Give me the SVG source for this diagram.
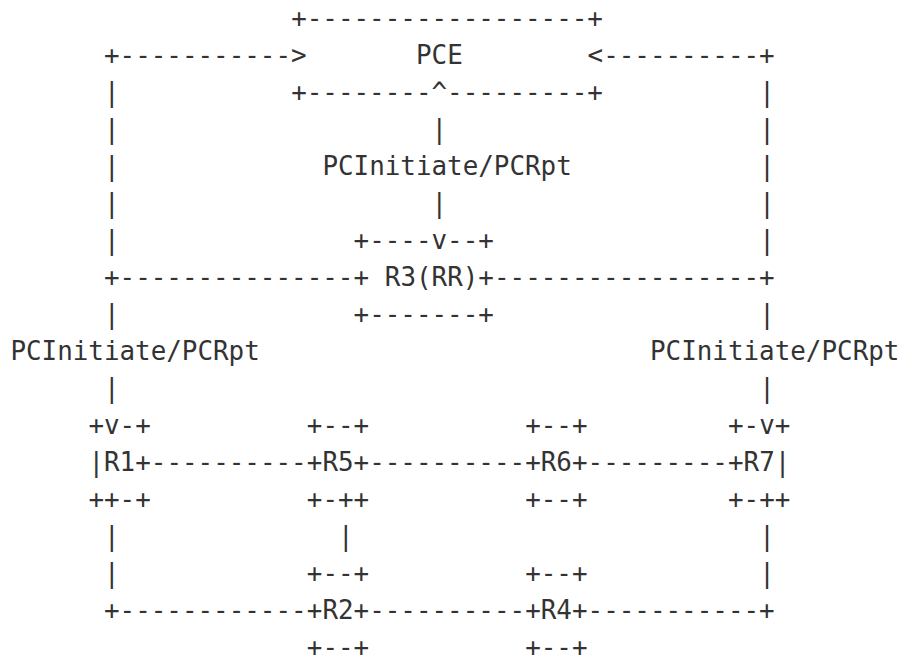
<svg xmlns="http://www.w3.org/2000/svg" width="904" height="659" viewBox="0 0 904 659">
<style>
text{font-family:"DejaVu Sans Mono","Liberation Mono",monospace;font-size:25.9px;fill:#333;white-space:pre}
</style>
<rect width="904" height="659" fill="#fff"/>
<g id="connectors">
<text x="104" y="64">+-----------&gt;</text>
<text x="587.6" y="64">&lt;----------+</text>
<text x="104" y="101">|</text><text x="759.2" y="101">|</text>
<text x="104" y="138">|</text><text x="431.6" y="138">|</text><text x="759.2" y="138">|</text>
<text x="104" y="175">|</text><text x="322.4" y="175">PCInitiate/PCRpt</text><text x="759.2" y="175">|</text>
<text x="104" y="212">|</text><text x="431.6" y="212">|</text><text x="759.2" y="212">|</text>
<text x="104" y="249">|</text><text x="759.2" y="249">|</text>
<text x="104" y="286">+---------------</text>
<text x="494" y="286">-----------------+</text>
<text x="104" y="323">|</text><text x="759.2" y="323">|</text>
<text x="10.4" y="360">PCInitiate/PCRpt</text><text x="650" y="360">PCInitiate/PCRpt</text>
<text x="104" y="397">|</text><text x="759.2" y="397">|</text>
<text x="150.8" y="471">----------</text>
<text x="369.2" y="471">----------</text>
<text x="587.6" y="471">---------</text>
<text x="104" y="545">|</text><text x="338" y="545">|</text><text x="759.2" y="545">|</text>
<text x="104" y="582">|</text><text x="759.2" y="582">|</text>
<text x="104" y="619">+------------</text>
<text x="369.2" y="619">----------</text>
<text x="587.6" y="619">-----------+</text>
</g>
<g id="pce">
<text x="291.2" y="27">+------------------+</text>
<text x="416" y="64">PCE</text>
<text x="291.2" y="101">+--------^---------+</text>
</g>
<g id="r3">
<text x="353.6" y="249">+----v--+</text>
<text x="353.6" y="286">+</text><text x="384.8" y="286">R3(RR)+</text>
<text x="353.6" y="323">+-------+</text>
</g>
<g id="r1">
<text x="88.4" y="434">+v-+</text>
<text x="88.4" y="471">|R1+</text>
<text x="88.4" y="508">++-+</text>
</g>
<g id="r5">
<text x="306.8" y="434">+--+</text>
<text x="306.8" y="471">+R5+</text>
<text x="306.8" y="508">+-++</text>
</g>
<g id="r6">
<text x="525.2" y="434">+--+</text>
<text x="525.2" y="471">+R6+</text>
<text x="525.2" y="508">+--+</text>
</g>
<g id="r7">
<text x="728" y="434">+-v+</text>
<text x="728" y="471">+R7|</text>
<text x="728" y="508">+-++</text>
</g>
<g id="r2">
<text x="306.8" y="582">+--+</text>
<text x="306.8" y="619">+R2+</text>
<text x="306.8" y="656">+--+</text>
</g>
<g id="r4">
<text x="525.2" y="582">+--+</text>
<text x="525.2" y="619">+R4+</text>
<text x="525.2" y="656">+--+</text>
</g>
</svg>
